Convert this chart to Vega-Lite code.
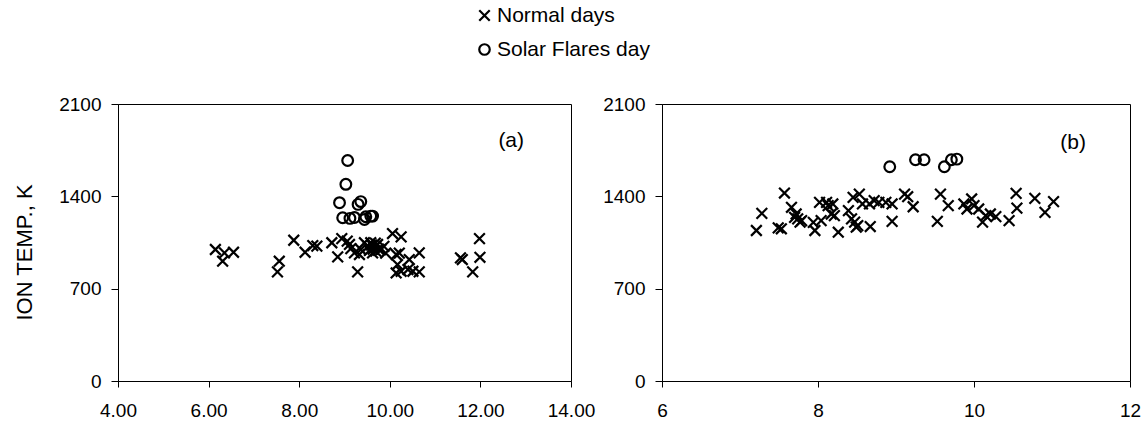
{
  "$schema": "https://vega.github.io/schema/vega-lite/v6.json",
  "background": "white",
  "padding": {"left": 12, "top": 5, "right": 4, "bottom": 2},
  "spacing": 6,
  "config": {
    "font": "Liberation Sans",
    "view": {"stroke": "black", "strokeWidth": 1},
    "axis": {
      "grid": false,
      "domainColor": "black",
      "tickColor": "black",
      "labelColor": "black",
      "titleColor": "black",
      "labelFont": "Liberation Sans",
      "titleFont": "Liberation Sans",
      "labelFontSize": 19,
      "titleFontSize": 22,
      "titleFontWeight": "normal",
      "labelFlush": false,
      "labelOverlap": false
    },
    "axisX": {"labelPadding": 14, "tickSize": 6},
    "axisY": {"labelPadding": 10, "tickSize": 7},
    "legend": {
      "labelFont": "Liberation Sans",
      "labelFontSize": 21,
      "labelColor": "black",
      "symbolSize": 110,
      "symbolStrokeWidth": 2.2,
      "symbolStrokeColor": "black",
      "rowPadding": 12,
      "padding": 0,
      "labelOffset": 2
    }
  },
  "datasets": {
    "pts": [
      {"panel": "a", "type": "Normal days", "x": 6.15, "y": 997},
      {"panel": "a", "type": "Normal days", "x": 6.35, "y": 971},
      {"panel": "a", "type": "Normal days", "x": 6.31, "y": 908},
      {"panel": "a", "type": "Normal days", "x": 6.55, "y": 976},
      {"panel": "a", "type": "Normal days", "x": 7.56, "y": 908},
      {"panel": "a", "type": "Normal days", "x": 7.52, "y": 827},
      {"panel": "a", "type": "Normal days", "x": 7.88, "y": 1067},
      {"panel": "a", "type": "Normal days", "x": 8.13, "y": 976},
      {"panel": "a", "type": "Normal days", "x": 8.30, "y": 1027},
      {"panel": "a", "type": "Normal days", "x": 8.39, "y": 1022},
      {"panel": "a", "type": "Normal days", "x": 8.72, "y": 1048},
      {"panel": "a", "type": "Normal days", "x": 8.85, "y": 941},
      {"panel": "a", "type": "Normal days", "x": 8.94, "y": 1080},
      {"panel": "a", "type": "Normal days", "x": 9.06, "y": 1060},
      {"panel": "a", "type": "Normal days", "x": 9.11, "y": 1035},
      {"panel": "a", "type": "Normal days", "x": 9.14, "y": 1004},
      {"panel": "a", "type": "Normal days", "x": 9.22, "y": 971},
      {"panel": "a", "type": "Normal days", "x": 9.29, "y": 827},
      {"panel": "a", "type": "Normal days", "x": 9.33, "y": 959},
      {"panel": "a", "type": "Normal days", "x": 9.36, "y": 997},
      {"panel": "a", "type": "Normal days", "x": 9.44, "y": 1048},
      {"panel": "a", "type": "Normal days", "x": 9.52, "y": 1020},
      {"panel": "a", "type": "Normal days", "x": 9.55, "y": 990},
      {"panel": "a", "type": "Normal days", "x": 9.58, "y": 1048},
      {"panel": "a", "type": "Normal days", "x": 9.60, "y": 1030},
      {"panel": "a", "type": "Normal days", "x": 9.62, "y": 971},
      {"panel": "a", "type": "Normal days", "x": 9.63, "y": 1000},
      {"panel": "a", "type": "Normal days", "x": 9.65, "y": 1010},
      {"panel": "a", "type": "Normal days", "x": 9.68, "y": 1045},
      {"panel": "a", "type": "Normal days", "x": 9.69, "y": 985},
      {"panel": "a", "type": "Normal days", "x": 9.73, "y": 1035},
      {"panel": "a", "type": "Normal days", "x": 9.75, "y": 1000},
      {"panel": "a", "type": "Normal days", "x": 9.80, "y": 997},
      {"panel": "a", "type": "Normal days", "x": 9.87, "y": 1020},
      {"panel": "a", "type": "Normal days", "x": 9.91, "y": 970},
      {"panel": "a", "type": "Normal days", "x": 10.06, "y": 1118},
      {"panel": "a", "type": "Normal days", "x": 10.25, "y": 1093},
      {"panel": "a", "type": "Normal days", "x": 10.14, "y": 959},
      {"panel": "a", "type": "Normal days", "x": 10.21, "y": 970},
      {"panel": "a", "type": "Normal days", "x": 10.17, "y": 883},
      {"panel": "a", "type": "Normal days", "x": 10.14, "y": 819},
      {"panel": "a", "type": "Normal days", "x": 10.25, "y": 832},
      {"panel": "a", "type": "Normal days", "x": 10.43, "y": 921},
      {"panel": "a", "type": "Normal days", "x": 10.40, "y": 845},
      {"panel": "a", "type": "Normal days", "x": 10.51, "y": 832},
      {"panel": "a", "type": "Normal days", "x": 10.65, "y": 971},
      {"panel": "a", "type": "Normal days", "x": 10.65, "y": 827},
      {"panel": "a", "type": "Normal days", "x": 11.56, "y": 934},
      {"panel": "a", "type": "Normal days", "x": 11.60, "y": 921},
      {"panel": "a", "type": "Normal days", "x": 11.83, "y": 827},
      {"panel": "a", "type": "Normal days", "x": 11.98, "y": 1080},
      {"panel": "a", "type": "Normal days", "x": 11.99, "y": 938},
      {"panel": "a", "type": "Solar Flares day", "x": 9.07, "y": 1672},
      {"panel": "a", "type": "Solar Flares day", "x": 9.03, "y": 1491},
      {"panel": "a", "type": "Solar Flares day", "x": 8.89, "y": 1352},
      {"panel": "a", "type": "Solar Flares day", "x": 9.36, "y": 1360},
      {"panel": "a", "type": "Solar Flares day", "x": 9.30, "y": 1339},
      {"panel": "a", "type": "Solar Flares day", "x": 8.96, "y": 1238},
      {"panel": "a", "type": "Solar Flares day", "x": 9.12, "y": 1233},
      {"panel": "a", "type": "Solar Flares day", "x": 9.22, "y": 1240},
      {"panel": "a", "type": "Solar Flares day", "x": 9.47, "y": 1245},
      {"panel": "a", "type": "Solar Flares day", "x": 9.58, "y": 1250},
      {"panel": "a", "type": "Solar Flares day", "x": 9.44, "y": 1225},
      {"panel": "a", "type": "Solar Flares day", "x": 9.62, "y": 1250},
      {"panel": "b", "type": "Normal days", "x": 7.21, "y": 1141},
      {"panel": "b", "type": "Normal days", "x": 7.28, "y": 1271},
      {"panel": "b", "type": "Normal days", "x": 7.49, "y": 1161},
      {"panel": "b", "type": "Normal days", "x": 7.53, "y": 1154},
      {"panel": "b", "type": "Normal days", "x": 7.57, "y": 1425},
      {"panel": "b", "type": "Normal days", "x": 7.66, "y": 1317},
      {"panel": "b", "type": "Normal days", "x": 7.70, "y": 1241},
      {"panel": "b", "type": "Normal days", "x": 7.72, "y": 1266},
      {"panel": "b", "type": "Normal days", "x": 7.74, "y": 1229},
      {"panel": "b", "type": "Normal days", "x": 7.77, "y": 1204},
      {"panel": "b", "type": "Normal days", "x": 7.79, "y": 1216},
      {"panel": "b", "type": "Normal days", "x": 7.94, "y": 1203},
      {"panel": "b", "type": "Normal days", "x": 7.96, "y": 1141},
      {"panel": "b", "type": "Normal days", "x": 8.02, "y": 1354},
      {"panel": "b", "type": "Normal days", "x": 8.04, "y": 1216},
      {"panel": "b", "type": "Normal days", "x": 8.11, "y": 1354},
      {"panel": "b", "type": "Normal days", "x": 8.13, "y": 1329},
      {"panel": "b", "type": "Normal days", "x": 8.17, "y": 1266},
      {"panel": "b", "type": "Normal days", "x": 8.19, "y": 1342},
      {"panel": "b", "type": "Normal days", "x": 8.21, "y": 1254},
      {"panel": "b", "type": "Normal days", "x": 8.26, "y": 1128},
      {"panel": "b", "type": "Normal days", "x": 8.39, "y": 1292},
      {"panel": "b", "type": "Normal days", "x": 8.43, "y": 1229},
      {"panel": "b", "type": "Normal days", "x": 8.45, "y": 1392},
      {"panel": "b", "type": "Normal days", "x": 8.47, "y": 1204},
      {"panel": "b", "type": "Normal days", "x": 8.49, "y": 1166},
      {"panel": "b", "type": "Normal days", "x": 8.51, "y": 1178},
      {"panel": "b", "type": "Normal days", "x": 8.53, "y": 1417},
      {"panel": "b", "type": "Normal days", "x": 8.57, "y": 1342},
      {"panel": "b", "type": "Normal days", "x": 8.66, "y": 1342},
      {"panel": "b", "type": "Normal days", "x": 8.67, "y": 1171},
      {"panel": "b", "type": "Normal days", "x": 8.72, "y": 1367},
      {"panel": "b", "type": "Normal days", "x": 8.78, "y": 1354},
      {"panel": "b", "type": "Normal days", "x": 8.87, "y": 1354},
      {"panel": "b", "type": "Normal days", "x": 8.95, "y": 1342},
      {"panel": "b", "type": "Normal days", "x": 8.95, "y": 1210},
      {"panel": "b", "type": "Normal days", "x": 9.11, "y": 1417},
      {"panel": "b", "type": "Normal days", "x": 9.15, "y": 1397},
      {"panel": "b", "type": "Normal days", "x": 9.22, "y": 1321},
      {"panel": "b", "type": "Normal days", "x": 9.53, "y": 1210},
      {"panel": "b", "type": "Normal days", "x": 9.57, "y": 1417},
      {"panel": "b", "type": "Normal days", "x": 9.67, "y": 1329},
      {"panel": "b", "type": "Normal days", "x": 9.87, "y": 1342},
      {"panel": "b", "type": "Normal days", "x": 9.91, "y": 1304},
      {"panel": "b", "type": "Normal days", "x": 9.97, "y": 1380},
      {"panel": "b", "type": "Normal days", "x": 10.00, "y": 1329},
      {"panel": "b", "type": "Normal days", "x": 10.06, "y": 1304},
      {"panel": "b", "type": "Normal days", "x": 10.11, "y": 1204},
      {"panel": "b", "type": "Normal days", "x": 10.15, "y": 1254},
      {"panel": "b", "type": "Normal days", "x": 10.21, "y": 1266},
      {"panel": "b", "type": "Normal days", "x": 10.28, "y": 1246},
      {"panel": "b", "type": "Normal days", "x": 10.45, "y": 1216},
      {"panel": "b", "type": "Normal days", "x": 10.54, "y": 1422},
      {"panel": "b", "type": "Normal days", "x": 10.55, "y": 1310},
      {"panel": "b", "type": "Normal days", "x": 10.78, "y": 1385},
      {"panel": "b", "type": "Normal days", "x": 10.91, "y": 1279},
      {"panel": "b", "type": "Normal days", "x": 11.02, "y": 1360},
      {"panel": "b", "type": "Solar Flares day", "x": 8.92, "y": 1624},
      {"panel": "b", "type": "Solar Flares day", "x": 9.25, "y": 1677},
      {"panel": "b", "type": "Solar Flares day", "x": 9.36, "y": 1677},
      {"panel": "b", "type": "Solar Flares day", "x": 9.62, "y": 1624},
      {"panel": "b", "type": "Solar Flares day", "x": 9.71, "y": 1677},
      {"panel": "b", "type": "Solar Flares day", "x": 9.78, "y": 1682}
    ]
  },
  "hconcat": [
    {
      "width": 453,
      "height": 277,
      "layer": [
        {
          "data": {"name": "pts"},
          "transform": [{"filter": "datum.panel == 'a'"}],
          "mark": {"type": "point", "filled": false, "strokeWidth": 2.2, "color": "black", "opacity": 1, "size": 115},
          "encoding": {
            "x": {"field": "x", "type": "quantitative", "scale": {"domain": [4, 14], "nice": false, "zero": false}, "axis": {"values": [4, 6, 8, 10, 12, 14], "format": ".2f", "title": null}},
            "y": {"field": "y", "type": "quantitative", "scale": {"domain": [0, 2100], "nice": false}, "axis": {"values": [0, 700, 1400, 2100], "format": "d", "title": "ION TEMP., K", "titleX": -94, "titleY": 148, "titleAngle": -90, "titleAlign": "center", "titleBaseline": "middle"}},
            "shape": {"field": "type", "type": "nominal", "scale": {"domain": ["Normal days", "Solar Flares day"], "range": ["M-1,-1L1,1M-1,1L1,-1", "circle"]}, "legend": {"orient": "none", "legendX": 356, "legendY": -99, "title": null, "direction": "vertical"}}
          }
        },
        {
          "data": {"values": [{}]},
          "mark": {"type": "text", "fontSize": 21, "color": "black", "font": "Liberation Sans"},
          "encoding": {"x": {"datum": 12.68}, "y": {"datum": 1820}, "text": {"value": "(a)"}}
        }
      ]
    },
    {
      "width": 468,
      "height": 277,
      "layer": [
        {
          "data": {"name": "pts"},
          "transform": [{"filter": "datum.panel == 'b'"}],
          "mark": {"type": "point", "filled": false, "strokeWidth": 2.2, "color": "black", "opacity": 1, "size": 115},
          "encoding": {
            "x": {"field": "x", "type": "quantitative", "scale": {"domain": [6, 12], "nice": false, "zero": false}, "axis": {"values": [6, 8, 10, 12], "format": "d", "title": null}},
            "y": {"field": "y", "type": "quantitative", "scale": {"domain": [0, 2100], "nice": false}, "axis": {"values": [0, 700, 1400, 2100], "format": "d", "title": null}},
            "shape": {"field": "type", "type": "nominal", "scale": {"domain": ["Normal days", "Solar Flares day"], "range": ["M-1,-1L1,1M-1,1L1,-1", "circle"]}, "legend": {"orient": "none", "legendX": 356, "legendY": -99, "title": null, "direction": "vertical"}}
          }
        },
        {
          "data": {"values": [{}]},
          "mark": {"type": "text", "fontSize": 21, "color": "black", "font": "Liberation Sans"},
          "encoding": {"x": {"datum": 11.27}, "y": {"datum": 1805}, "text": {"value": "(b)"}}
        }
      ]
    }
  ],
  "resolve": {"scale": {"shape": "shared", "x": "independent", "y": "independent"}, "legend": {"shape": "shared"}}
}
